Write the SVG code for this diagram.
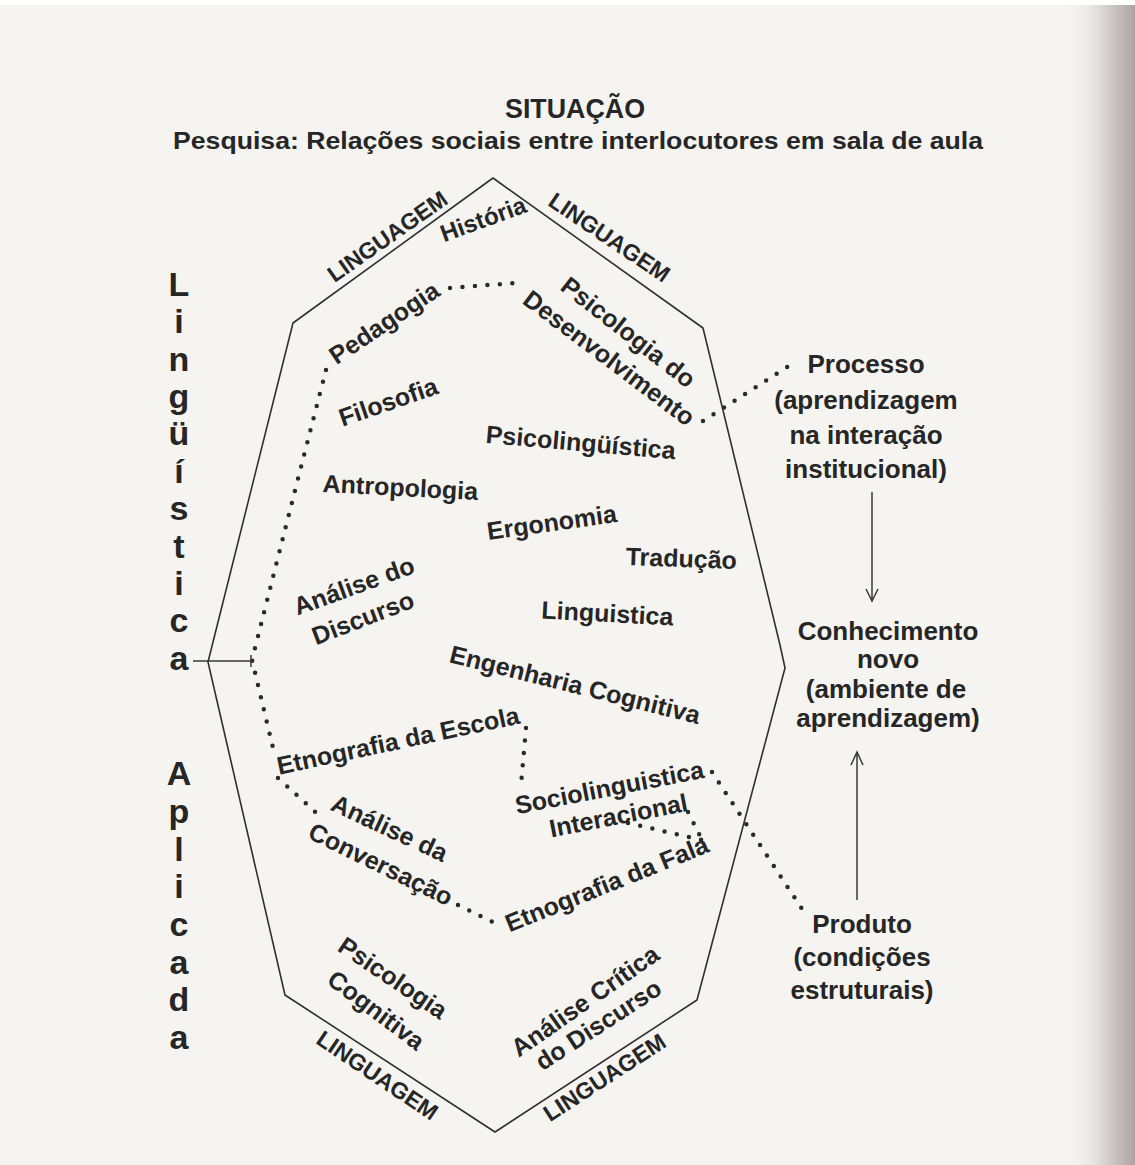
<svg xmlns="http://www.w3.org/2000/svg" width="1135" height="1165" viewBox="0 0 1135 1165">
<style>
.t{font-family:"Liberation Sans",Arial,Helvetica,sans-serif;font-weight:bold;fill:#262626;text-anchor:middle}
.lab{font-size:25px}
.ling{font-size:23px}
.rc{font-size:26px}
.vert{font-size:34px}
.edge{fill:none;stroke:#303030;stroke-width:1.6;stroke-linejoin:round}
.dot{fill:none;stroke:#2a2a2a;stroke-width:4.5;stroke-linecap:round;stroke-dasharray:0 12.5}
.arr{fill:none;stroke:#3a3a3a;stroke-width:1.5}
</style>
<defs>
<linearGradient id="shadow" x1="0" y1="0" x2="1" y2="0">
<stop offset="0" stop-color="#f4f3f0" stop-opacity="0"/>
<stop offset="0.5" stop-color="#dedad8"/>
<stop offset="1" stop-color="#aaa3a1"/>
</linearGradient>
</defs>
<rect x="0" y="0" width="1135" height="1165" fill="#f5f4f1"/>
<rect x="0" y="0" width="1135" height="5" fill="#ffffff"/>
<rect x="1065" y="5" width="70" height="1160" fill="url(#shadow)"/>

<g id="header">
<text class="t" x="575" y="118" font-size="27" font-weight="normal" textLength="140" lengthAdjust="spacingAndGlyphs">SITUAÇÃO</text>
<text class="t" x="578" y="149" font-size="24" textLength="810" lengthAdjust="spacingAndGlyphs">Pesquisa: Relações sociais entre interlocutores em sala de aula</text>
</g>

<g id="octagon">
<path class="edge" d="M493,178 L703,328 L780,645 L785,668 L697,1000 L495,1132 L285,995 L208,662 L293,323 Z"/>
</g>

<g id="linguagem">
<text class="t ling" transform="translate(392,243) rotate(-35)">LINGUAGEM</text>
<text class="t ling" transform="translate(605,244) rotate(34)">LINGUAGEM</text>
<text class="t ling" transform="translate(373,1082) rotate(34)">LINGUAGEM</text>
<text class="t ling" transform="translate(609,1084) rotate(-33)">LINGUAGEM</text>
</g>

<g id="linguistica-aplicada">
<text class="t vert" x="179" y="296">L</text>
<text class="t vert" x="179" y="333">i</text>
<text class="t vert" x="179" y="371">n</text>
<text class="t vert" x="179" y="408">g</text>
<text class="t vert" x="179" y="445">ü</text>
<text class="t vert" x="179" y="483">í</text>
<text class="t vert" x="179" y="520">s</text>
<text class="t vert" x="179" y="558">t</text>
<text class="t vert" x="179" y="595">i</text>
<text class="t vert" x="179" y="632">c</text>
<text class="t vert" x="179" y="670">a</text>
<text class="t vert" x="179" y="785">A</text>
<text class="t vert" x="179" y="823">p</text>
<text class="t vert" x="179" y="861">l</text>
<text class="t vert" x="179" y="898">i</text>
<text class="t vert" x="179" y="936">c</text>
<text class="t vert" x="179" y="974">a</text>
<text class="t vert" x="179" y="1011">d</text>
<text class="t vert" x="179" y="1049">a</text>
</g>

<g id="historia"><text class="t" font-size="24" transform="translate(486,227) rotate(-20)">História</text></g>
<g id="pedagogia"><text class="t lab" transform="translate(389,330) rotate(-34)">Pedagogia</text></g>
<g id="psicologia-desenvolvimento">
<text class="t lab" transform="translate(623,339) rotate(38)">Psicologia do</text>
<text class="t lab" transform="translate(604,365) rotate(37)">Desenvolvimento</text>
</g>
<g id="filosofia"><text class="t lab" transform="translate(391,410) rotate(-19)">Filosofia</text></g>
<g id="psicolinguistica"><text class="t lab" transform="translate(580,451) rotate(5)">Psicolingüística</text></g>
<g id="antropologia"><text class="t lab" transform="translate(400,496) rotate(3)">Antropologia</text></g>
<g id="ergonomia"><text class="t lab" transform="translate(553,531) rotate(-8)">Ergonomia</text></g>
<g id="traducao"><text class="t lab" transform="translate(681,567) rotate(2)">Tradução</text></g>
<g id="linguistica"><text class="t lab" transform="translate(607,622) rotate(3)">Linguistica</text></g>
<g id="analise-discurso">
<text class="t lab" transform="translate(357,594) rotate(-20)">Análise do</text>
<text class="t lab" transform="translate(366,626) rotate(-21)">Discurso</text>
</g>
<g id="engenharia-cognitiva"><text class="t lab" transform="translate(573,693) rotate(14)">Engenharia Cognitiva</text></g>
<g id="etnografia-escola"><text class="t lab" transform="translate(400,749) rotate(-12)">Etnografia da Escola</text></g>
<g id="sociolinguistica-interacional">
<text class="t lab" transform="translate(611,796) rotate(-11)">Sociolinguistica</text>
<text class="t lab" transform="translate(620,824) rotate(-11)">Interacional</text>
</g>
<g id="analise-conversacao">
<text class="t lab" transform="translate(386,836) rotate(25)">Análise da</text>
<text class="t lab" transform="translate(377,872) rotate(26)">Conversação</text>
</g>
<g id="etnografia-fala"><text class="t lab" transform="translate(610,892) rotate(-22)">Etnografia da Fala</text></g>
<g id="psicologia-cognitiva">
<text class="t lab" transform="translate(388,985) rotate(34)">Psicologia</text>
<text class="t lab" transform="translate(371,1017) rotate(37)">Cognitiva</text>
</g>
<g id="analise-critica">
<text class="t lab" transform="translate(590,1008) rotate(-35)">Análise Crítica</text>
<text class="t lab" transform="translate(603,1032) rotate(-33)">do Discurso</text>
</g>

<g id="processo">
<text class="t rc" x="866" y="373">Processo</text>
<text class="t rc" x="866" y="409">(aprendizagem</text>
<text class="t rc" x="866" y="444">na interação</text>
<text class="t rc" x="866" y="478">institucional)</text>
</g>
<g id="conhecimento">
<text class="t rc" x="888" y="640">Conhecimento</text>
<text class="t rc" x="888" y="668">novo</text>
<text class="t rc" x="886" y="698">(ambiente de</text>
<text class="t rc" x="888" y="727">aprendizagem)</text>
</g>
<g id="produto">
<text class="t rc" x="862" y="933">Produto</text>
<text class="t rc" x="862" y="966">(condições</text>
<text class="t rc" x="862" y="999">estruturais)</text>
</g>

<g id="connectors">
<path class="dot" d="M450,288 L515,283"/>
<path class="dot" d="M703,421 L795,362"/>
<path class="dot" d="M326,370 Q300,470 252,660 L274,752"/>
<path class="dot" d="M278,778 L322,818"/>
<path class="dot" d="M458,905 L497,924"/>
<path class="dot" d="M526,728 L521,785"/>
<path class="dot" d="M628,823 L702,840"/>
<path class="dot" d="M688,812 L702,840"/>
<path class="dot" d="M712,772 L806,915"/>
<path class="arr" d="M193,661 L252,661 M251,655 L251,667"/>
<path class="arr" d="M872,492 L872,600 M866,589 L872,601 L878,589" stroke="#555"/>
<path class="arr" d="M857,900 L857,753 M851,765 L857,752 L863,765"/>
</g>
</svg>
